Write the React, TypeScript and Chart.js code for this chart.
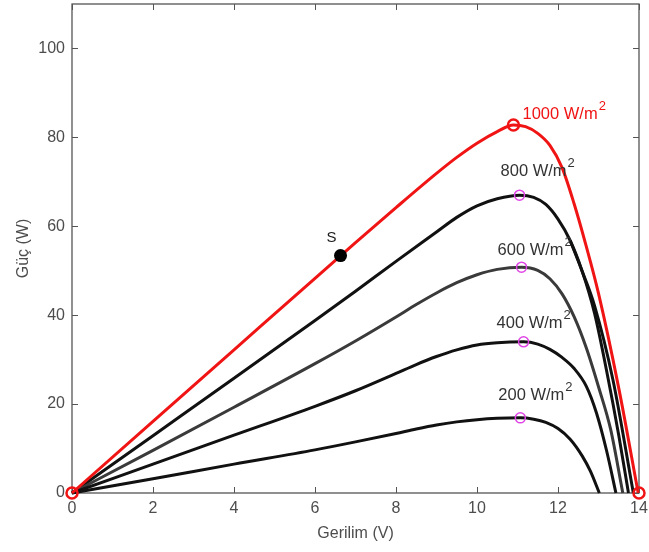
import React, { useEffect, useRef } from 'react';
import { Chart, registerables } from 'chart.js';

Chart.register(...registerables);

// ---- data (Gerilim V, Güç W) ----
const xTicks = [0, 2, 4, 6, 8, 10, 12, 14];
const yTicks = [0, 20, 40, 60, 80, 100];

const v1000 = [0, 2, 4, 6, 7, 8, 9, 9.5, 10, 10.5, 10.9, 11.2, 11.5, 11.8, 12.1, 12.4, 12.7, 13.0, 13.5, 13.98];
const p1000 = [0, 16.1, 32.2, 48.3, 56.3, 64.2, 71.9, 75.5, 78.7, 81.3, 82.8, 82.4, 80.9, 78.2, 73.2, 65.0, 55.4, 44.9, 23.6, 0];

const v800 = [0, 2, 4, 6, 7, 8, 9, 9.5, 10, 10.5, 11.05, 11.4, 11.7, 12.0, 12.3, 12.6, 12.9, 13.2, 13.5, 13.74];
const p800 = [0, 12.9, 25.8, 38.8, 45.4, 52.1, 58.7, 62.0, 64.6, 66.2, 67.0, 66.5, 64.9, 61.6, 56.8, 49.8, 40.5, 27.5, 13.0, 0];

const vExtra = [12.3, 12.6, 12.9, 13.36, 13.86];
const pExtra = [56.8, 49.8, 42.2, 25.3, 0];

const v600 = [0, 2, 4, 6, 7, 8, 8.5, 9, 9.5, 10, 10.5, 11.1, 11.5, 11.8, 12.1, 12.4, 12.7, 13.0, 13.3, 13.6];
const p600 = [0, 9.6, 19.3, 29.1, 34.2, 39.6, 42.4, 45.0, 47.3, 49.1, 50.3, 50.8, 50.1, 48.2, 44.8, 39.6, 32.6, 23.9, 14.3, 0];

const v400 = [0, 2, 4, 6, 7, 8, 8.5, 9, 9.5, 10, 10.5, 11.15, 11.5, 11.8, 12.1, 12.4, 12.7, 12.95, 13.2, 13.43];
const p400 = [0, 6.5, 13.0, 19.5, 23.0, 26.9, 28.9, 30.7, 32.2, 33.3, 33.8, 34.0, 33.5, 32.3, 30.5, 28.0, 24.0, 18.0, 9.5, 0];

const v200 = [0, 2, 4, 6, 7, 8, 8.5, 9, 9.5, 10, 10.5, 11.07, 11.4, 11.7, 12.0, 12.3, 12.6, 12.8, 13.02];
const p200 = [0, 3.2, 6.5, 9.7, 11.5, 13.4, 14.4, 15.3, 16.0, 16.5, 16.8, 16.9, 16.6, 15.9, 14.5, 12.1, 8.3, 4.9, 0];

// maximum power points (800, 600, 400, 200)
const mppV = [11.05, 11.1, 11.15, 11.07];
const mppP = [67.0, 50.8, 34.0, 16.9];
const mppNames = ['800', '600', '400', '200'];

const peak1000V = [10.9];
const peak1000P = [82.8];
const endV = [0, 14];
const endP = [0, 0];

const sV = [6.63];
const sP = [53.4];

const pts = (vs: number[], ps: number[]) => vs.map((v, i) => ({ x: v, y: ps[i] }));

const FONT = '"Liberation Sans", Arial, Helvetica, sans-serif';
const RED = '#f01414';
const MAGENTA = '#e046e6';
const AXIS = '#555555';

// label styling: offsets in px from the marker they describe
const labelStyle: Record<string, { dx: number; dy: number; color: string }> = {
  '1000': { dx: 9, dy: -10, color: RED },
  '800': { dx: -19, dy: -24, color: '#333333' },
  '600': { dx: -24, dy: -17, color: '#333333' },
  '400': { dx: -27, dy: -18, color: '#333333' },
  '200': { dx: -22, dy: -22, color: '#333333' },
};

const boxPlugin = {
  id: 'boxTicks',
  beforeDatasetsDraw(chart: any) {
    const { ctx, chartArea, scales } = chart;
    const { left, right, top, bottom } = chartArea;
    const x = scales.x;
    const y = scales.y;
    ctx.save();
    ctx.strokeStyle = AXIS;
    ctx.lineWidth = 1.3;
    ctx.strokeRect(left, top, right - left, bottom - top);
    ctx.lineWidth = 1;
    ctx.beginPath();
    xTicks.forEach((t) => {
      const px = Math.round(x.getPixelForValue(t)) + 0.5;
      ctx.moveTo(px, bottom);
      ctx.lineTo(px, bottom - 6);
      ctx.moveTo(px, top);
      ctx.lineTo(px, top + 6);
    });
    yTicks.forEach((t) => {
      const py = Math.round(y.getPixelForValue(t)) + 0.5;
      ctx.moveTo(left, py);
      ctx.lineTo(left + 6, py);
      ctx.moveTo(right, py);
      ctx.lineTo(right - 6, py);
    });
    ctx.stroke();
    ctx.restore();
  },
  afterDatasetsDraw(chart: any) {
    const { ctx, scales } = chart;
    const x = scales.x;
    const y = scales.y;
    const drawLabel = (name: string, vx: number, vy: number) => {
      const st = labelStyle[name];
      const px = x.getPixelForValue(vx) + st.dx;
      const py = y.getPixelForValue(vy) + st.dy;
      ctx.save();
      ctx.fillStyle = st.color;
      ctx.textAlign = 'left';
      ctx.textBaseline = 'middle';
      ctx.font = `16.5px ${FONT}`;
      const txt = `${name} W/m`;
      ctx.fillText(txt, px, py);
      const w = ctx.measureText(txt).width;
      ctx.font = `13px ${FONT}`;
      ctx.fillText('2', px + w + 1, py - 8);
      ctx.restore();
    };
    drawLabel('1000', peak1000V[0], peak1000P[0]);
    mppNames.forEach((n, i) => drawLabel(n, mppV[i], mppP[i]));
    // S label
    ctx.save();
    ctx.fillStyle = '#1a1a1a';
    ctx.font = `15px ${FONT}`;
    ctx.textAlign = 'center';
    ctx.textBaseline = 'middle';
    ctx.fillText('S', x.getPixelForValue(sV[0]) - 9, y.getPixelForValue(sP[0]) - 18);
    ctx.restore();
  },
};

export default function App() {
  const ref = useRef<HTMLCanvasElement | null>(null);
  useEffect(() => {
    if (!ref.current) return;
    const curve = (data: any, color: string, order: number) => ({
      data,
      borderColor: color,
      backgroundColor: color,
      borderWidth: 3,
      showLine: true,
      pointRadius: 0,
      cubicInterpolationMode: 'monotone',
      clip: false,
      order,
    });
    const chart = new Chart(ref.current, {
      type: 'scatter',
      data: {
        datasets: [
          curve(pts(vExtra, pExtra), '#111111', 10),
          curve(pts(v200, p200), '#111111', 6),
          curve(pts(v400, p400), '#111111', 6),
          curve(pts(v600, p600), '#3a3a3a', 6),
          curve(pts(v800, p800), '#111111', 6),
          curve(pts(v1000, p1000), RED, 4),
          {
            data: pts(mppV, mppP),
            showLine: false,
            pointRadius: 5,
            pointBorderWidth: 1.5,
            pointBorderColor: MAGENTA,
            pointBackgroundColor: 'rgba(0,0,0,0)',
            clip: false,
            order: 2,
          } as any,
          {
            data: pts(peak1000V.concat(endV), peak1000P.concat(endP)),
            showLine: false,
            pointRadius: 5.5,
            pointBorderWidth: 2.5,
            pointBorderColor: RED,
            pointBackgroundColor: 'rgba(0,0,0,0)',
            clip: false,
            order: 1,
          } as any,
          {
            data: pts(sV, sP),
            showLine: false,
            pointRadius: 6.5,
            pointBorderWidth: 0,
            pointBackgroundColor: '#000000',
            pointBorderColor: '#000000',
            clip: false,
            order: 0,
          } as any,
        ] as any,
      },
      options: {
        animation: false,
        responsive: false,
        devicePixelRatio: 1,
        layout: { autoPadding: false, padding: { top: 4, right: 10, left: 0, bottom: 0 } },
        plugins: { legend: { display: false }, tooltip: { enabled: false } },
        scales: {
          x: {
            type: 'linear',
            min: 0,
            max: 14,
            grid: { display: false, drawTicks: false },
            border: { display: false },
            afterBuildTicks: (s: any) => {
              s.ticks = xTicks.map((v) => ({ value: v }));
            },
            afterFit: (s: any) => {
              s.height = 59;
              s.paddingLeft = 0;
              s.paddingRight = 0;
            },
            ticks: {
              color: '#4d4d4d',
              font: { family: FONT, size: 16 },
              padding: 6,
              maxRotation: 0,
              autoSkip: false,
            },
            title: {
              display: true,
              text: 'Gerilim (V)',
              color: '#4d4d4d',
              font: { family: FONT, size: 16 },
              padding: { top: 0, bottom: 9 },
            },
          },
          y: {
            type: 'linear',
            min: 0,
            max: 110,
            grid: { display: false, drawTicks: false },
            border: { display: false },
            afterBuildTicks: (s: any) => {
              s.ticks = yTicks.map((v) => ({ value: v }));
            },
            afterFit: (s: any) => {
              s.width = 72;
              s.paddingTop = 0;
              s.paddingBottom = 0;
            },
            ticks: {
              color: '#4d4d4d',
              font: { family: FONT, size: 16 },
              padding: 7,
              autoSkip: false,
            },
            title: {
              display: true,
              text: 'Güç (W)',
              color: '#4d4d4d',
              font: { family: FONT, size: 16 },
              padding: { top: 14, bottom: 0 },
            },
          },
        },
      } as any,
      plugins: [boxPlugin],
    });
    return () => chart.destroy();
  }, []);
  return (
    <div style={{ position: 'fixed', left: 0, top: 0, width: 649, height: 552, background: '#fff' }}>
      <canvas ref={ref} width={649} height={552} style={{ width: 649, height: 552, display: 'block' }} />
    </div>
  );
}
